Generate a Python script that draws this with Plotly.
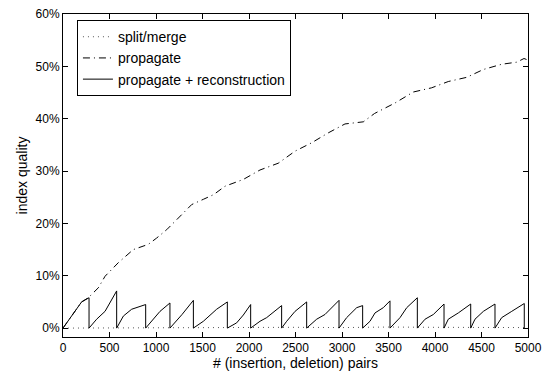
import plotly.graph_objects as go

# split/merge (dotted, near zero)
split_x = [0, 500, 1000, 1500, 2000, 2500, 3000, 3500, 4000, 4500, 5000]
split_y = [0.0, 0.05, 0.1, 0.15, 0.1, 0.15, 0.1, 0.2, 0.15, 0.1, 0.1]

# propagate (dash-dot)
prop_x = [0, 130, 200, 272, 380, 452, 595, 756, 917, 1007, 1115, 1222, 1384, 1509,
          1620, 1742, 1939, 2118, 2315, 2495, 2674, 2853, 3032, 3229, 3350, 3570,
          3767, 3964, 4143, 4341, 4520, 4717, 4879, 4957, 5000]
prop_y = [0.0, 3.2, 5.0, 5.8, 7.7, 9.9, 12.5, 15.0, 16.0, 17.2, 18.8, 20.7, 23.6, 24.6,
          25.5, 27.1, 28.4, 30.2, 31.5, 33.8, 35.4, 37.3, 39.0, 39.4, 41.0, 43.0,
          45.1, 45.9, 47.1, 47.9, 49.4, 50.4, 50.8, 51.5, 51.2]

# propagate + reconstruction (solid sawtooth)
recon_x = [0, 130, 200, 280,
           280, 362, 452, 577,
           577, 649, 738, 889,
           889, 1043, 1150,
           1150, 1280, 1402,
           1402, 1509, 1652, 1767,
           1767, 1867, 1939, 2018,
           2018, 2118, 2190, 2351,
           2351, 2405, 2495, 2620,
           2620, 2728, 2817, 2968,
           2968, 3050, 3158, 3222,
           3222, 3301, 3355, 3444, 3516,
           3516, 3624, 3696, 3810,
           3810, 3893, 3982, 4097,
           4097, 4143, 4251, 4384,
           4384, 4430, 4520, 4645,
           4645, 4717, 4825, 4943, 4960,
           4960]
recon_y = [0.0, 3.2, 5.0, 5.8,
           0.0, 1.7, 3.2, 7.1,
           0.0, 2.3, 3.6, 4.5,
           0.0, 3.2, 4.8,
           0.0, 2.6, 5.3,
           0.0, 1.3, 3.6, 5.0,
           0.0, 1.0, 2.5, 4.5,
           0.0, 1.3, 2.0, 4.3,
           0.0, 1.3, 3.2, 5.0,
           0.0, 1.7, 2.6, 5.3,
           0.0, 2.0, 3.9, 4.3,
           0.0, 1.3, 2.9, 3.9, 5.2,
           0.0, 2.0, 3.9, 5.8,
           0.0, 1.7, 2.6, 4.6,
           0.0, 1.7, 2.9, 4.6,
           0.0, 1.7, 3.2, 4.6,
           0.0, 2.0, 3.2, 4.6, 4.7,
           0.0]

x_ticks = [0, 500, 1000, 1500, 2000, 2500, 3000, 3500, 4000, 4500, 5000]
y_ticks = [0, 10, 20, 30, 40, 50, 60]
y_tick_labels = ["0%", "10%", "20%", "30%", "40%", "50%", "60%"]

fig = go.Figure()
fig.add_trace(go.Scatter(x=split_x, y=split_y, mode="lines", name="split/merge",
                         line=dict(color="#555555", width=1, dash="1px,4px")))
fig.add_trace(go.Scatter(x=prop_x, y=prop_y, mode="lines", name="propagate",
                         line=dict(color="black", width=1, dash="7px,4px,1px,4px")))
fig.add_trace(go.Scatter(x=recon_x, y=recon_y, mode="lines", name="propagate + reconstruction",
                         line=dict(color="black", width=1)))

font = dict(family="Liberation Sans, Arial, Helvetica, sans-serif", size=12, color="black")
fig.update_layout(
    width=543, height=372,
    margin=dict(l=63, r=15, t=14, b=35, autoexpand=False),
    paper_bgcolor="white", plot_bgcolor="white",
    font=font,
    showlegend=True,
    legend=dict(x=0.03, y=0.981, xanchor="left", yanchor="top",
                bordercolor="black", borderwidth=1, bgcolor="white",
                font=dict(size=14), tracegroupgap=0, itemwidth=30),
    xaxis=dict(range=[0, 5000], tickvals=x_ticks, ticks="inside", ticklen=5,
               showline=True, linecolor="black", linewidth=1, mirror="ticks",
               showgrid=False, zeroline=False, tickcolor="black", automargin=False,
               ticklabeloverflow="allow",
               title=dict(text="# (insertion, deletion) pairs", standoff=2)),
    yaxis=dict(range=[-1.7, 60], tickvals=y_ticks, ticktext=y_tick_labels,
               ticks="inside", ticklen=5,
               showline=True, linecolor="black", linewidth=1, mirror="ticks",
               showgrid=False, zeroline=False, tickcolor="black", automargin=False,
               ticklabeloverflow="allow",
               title=dict(text="index quality", standoff=4)),
)
fig.write_html("out.html", config={"displayModeBar": False},
               post_script="document.body.style.margin='0';document.body.style.overflow='hidden';")
